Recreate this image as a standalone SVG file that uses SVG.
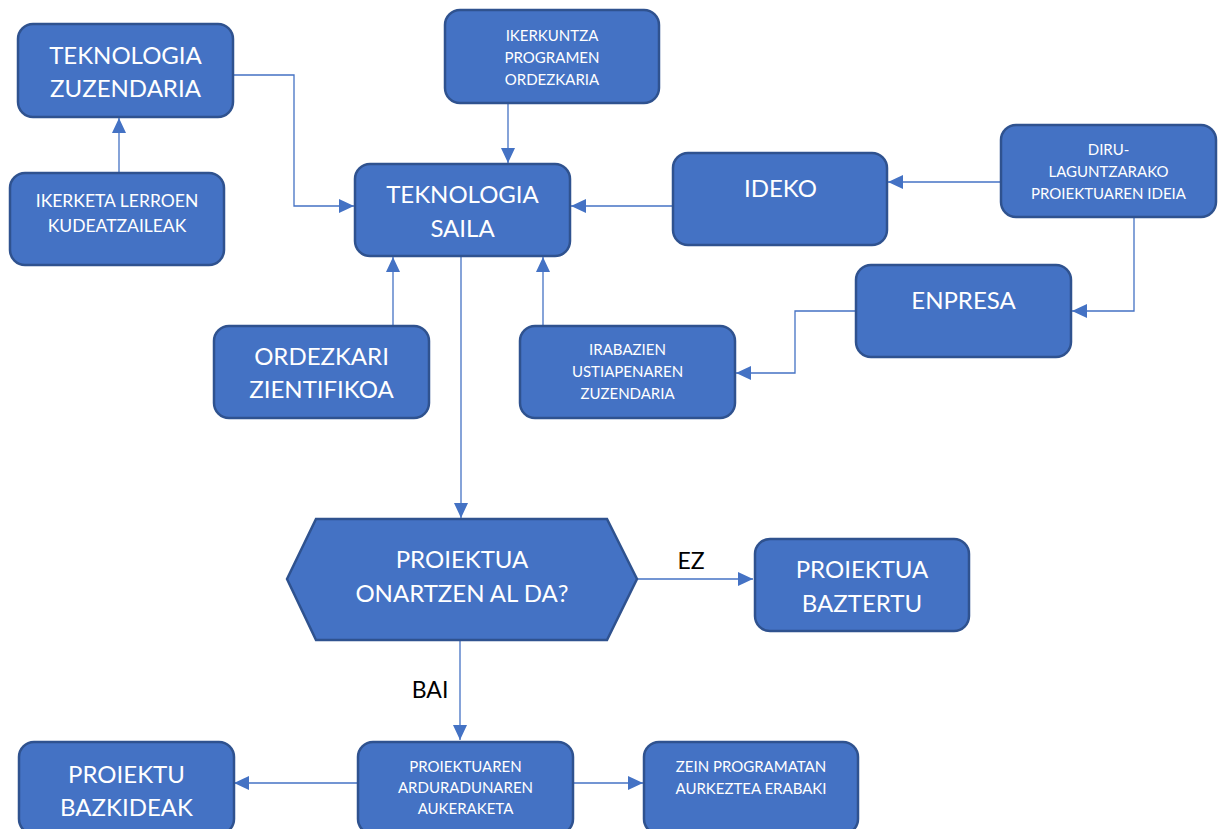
<svg xmlns="http://www.w3.org/2000/svg" width="1218" height="829" viewBox="0 0 1218 829">
<style>
.box{fill:#4472C4;stroke:#2F528F;stroke-width:2.5}
.t{font-family:Lato,"Liberation Sans",sans-serif;fill:#fff;text-anchor:middle}
.big{font-size:24px}
.mid{font-size:17.5px}
.sm{font-size:15px}
.lbl{font-family:Lato,"Liberation Sans",sans-serif;font-size:23px;fill:#000}
.c{fill:none;stroke:#4472C4;stroke-width:1.3}
</style>
<defs>
<marker id="ah" markerUnits="userSpaceOnUse" markerWidth="16" markerHeight="14" refX="15" refY="7" orient="auto">
<path d="M0,0 L15,7 L0,14 z" fill="#4472C4"/>
</marker>
</defs>
<rect width="1218" height="829" fill="#fff"/>
<g id="connectors">
<path class="c" d="M119,173 V118" marker-end="url(#ah)"/>
<path class="c" d="M233,75 H294 V206 H354" marker-end="url(#ah)"/>
<path class="c" d="M508,103 V163" marker-end="url(#ah)"/>
<path class="c" d="M673,206 H571" marker-end="url(#ah)"/>
<path class="c" d="M1001,182 H888" marker-end="url(#ah)"/>
<path class="c" d="M1134,217 V311 H1072" marker-end="url(#ah)"/>
<path class="c" d="M856,311 H795 V373 H736" marker-end="url(#ah)"/>
<path class="c" d="M393,326 V257" marker-end="url(#ah)"/>
<path class="c" d="M543,326 V257" marker-end="url(#ah)"/>
<path class="c" d="M461,257 V518" marker-end="url(#ah)"/>
<path class="c" d="M637,579 H753" marker-end="url(#ah)"/>
<path class="c" d="M460,640 V740" marker-end="url(#ah)"/>
<path class="c" d="M358,783 H234" marker-end="url(#ah)"/>
<path class="c" d="M573,783 H643" marker-end="url(#ah)"/>
<text class="lbl" x="691" y="569" text-anchor="middle">EZ</text>
<text class="lbl" x="430" y="698" text-anchor="middle">BAI</text>
</g>
<g id="zuzendaria">
<rect class="box" x="18" y="24" width="215" height="93" rx="15"/>
<text class="t big" x="125.5" y="64">TEKNOLOGIA</text>
<text class="t big" x="125.5" y="97">ZUZENDARIA</text>
</g>
<g id="ikerketa">
<rect class="box" x="10" y="173" width="214" height="92" rx="15"/>
<text class="t mid" x="117" y="207">IKERKETA LERROEN</text>
<text class="t mid" x="117" y="232">KUDEATZAILEAK</text>
</g>
<g id="ikerkuntza">
<rect class="box" x="445" y="10" width="214" height="93" rx="15"/>
<text class="t sm" x="552" y="41">IKERKUNTZA</text>
<text class="t sm" x="552" y="63">PROGRAMEN</text>
<text class="t sm" x="552" y="85">ORDEZKARIA</text>
</g>
<g id="saila">
<rect class="box" x="355" y="164" width="215" height="92" rx="15"/>
<text class="t big" x="462.5" y="203">TEKNOLOGIA</text>
<text class="t big" x="462.5" y="237">SAILA</text>
</g>
<g id="ideko">
<rect class="box" x="673" y="153" width="214" height="92" rx="15"/>
<text class="t big" x="780.5" y="197">IDEKO</text>
</g>
<g id="diru">
<rect class="box" x="1001" y="125" width="215" height="92" rx="15"/>
<text class="t sm" x="1108.5" y="155">DIRU-</text>
<text class="t sm" x="1108.5" y="177">LAGUNTZARAKO</text>
<text class="t sm" x="1108.5" y="199">PROIEKTUAREN IDEIA</text>
</g>
<g id="enpresa">
<rect class="box" x="856" y="265" width="215" height="92" rx="15"/>
<text class="t big" x="963.5" y="309">ENPRESA</text>
</g>
<g id="ordezkari">
<rect class="box" x="214" y="326" width="215" height="92" rx="15"/>
<text class="t big" x="321.5" y="365">ORDEZKARI</text>
<text class="t big" x="321.5" y="398">ZIENTIFIKOA</text>
</g>
<g id="irabazien">
<rect class="box" x="520" y="326" width="215" height="92" rx="15"/>
<text class="t sm" x="627.5" y="355">IRABAZIEN</text>
<text class="t sm" x="627.5" y="377">USTIAPENAREN</text>
<text class="t sm" x="627.5" y="399">ZUZENDARIA</text>
</g>
<g id="onartzen">
<polygon class="box" points="287,579 316,519 607,519 637,579 607,640 316,640"/>
<text class="t big" x="462" y="568">PROIEKTUA</text>
<text class="t big" x="462" y="602">ONARTZEN AL DA?</text>
</g>
<g id="baztertu">
<rect class="box" x="755" y="539" width="214" height="92" rx="15"/>
<text class="t big" x="862" y="578">PROIEKTUA</text>
<text class="t big" x="862" y="612">BAZTERTU</text>
</g>
<g id="bazkideak">
<rect class="box" x="19" y="742" width="215" height="92" rx="15"/>
<text class="t big" x="126.5" y="783">PROIEKTU</text>
<text class="t big" x="126.5" y="816">BAZKIDEAK</text>
</g>
<g id="arduraduna">
<rect class="box" x="358" y="742" width="215" height="92" rx="15"/>
<text class="t sm" x="465.5" y="772">PROIEKTUAREN</text>
<text class="t sm" x="465.5" y="793">ARDURADUNAREN</text>
<text class="t sm" x="465.5" y="814">AUKERAKETA</text>
</g>
<g id="zein">
<rect class="box" x="644" y="742" width="214" height="92" rx="15"/>
<text class="t sm" x="751" y="772">ZEIN PROGRAMATAN</text>
<text class="t sm" x="751" y="794">AURKEZTEA ERABAKI</text>
</g>
</svg>
